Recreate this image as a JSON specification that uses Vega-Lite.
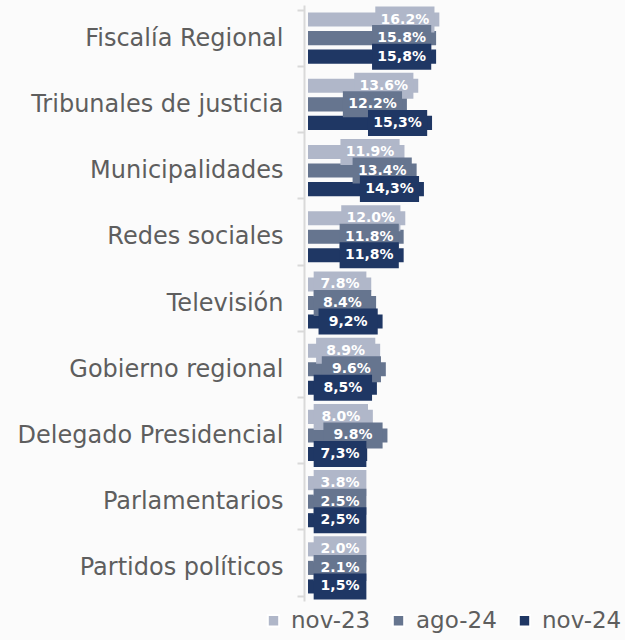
{
  "$schema": "https://vega.github.io/schema/vega-lite/v6.json",
  "autosize": {"type": "none"},
  "padding": {"left": 308, "top": 5, "right": 0, "bottom": 39},
  "width": 317,
  "height": 596,
  "background": "#fbfbfb",
  "config": {"view": {"stroke": null}, "font": "DejaVu Sans"},
  "data": {"values": [
    {"cat": "Fiscalía Regional", "serie": "nov-23", "value": 16.2, "label": "16.2%"},
    {"cat": "Fiscalía Regional", "serie": "ago-24", "value": 15.8, "label": "15.8%"},
    {"cat": "Fiscalía Regional", "serie": "nov-24", "value": 15.8, "label": "15,8%"},
    {"cat": "Tribunales de justicia", "serie": "nov-23", "value": 13.6, "label": "13.6%"},
    {"cat": "Tribunales de justicia", "serie": "ago-24", "value": 12.2, "label": "12.2%"},
    {"cat": "Tribunales de justicia", "serie": "nov-24", "value": 15.3, "label": "15,3%"},
    {"cat": "Municipalidades", "serie": "nov-23", "value": 11.9, "label": "11.9%"},
    {"cat": "Municipalidades", "serie": "ago-24", "value": 13.4, "label": "13.4%"},
    {"cat": "Municipalidades", "serie": "nov-24", "value": 14.3, "label": "14,3%"},
    {"cat": "Redes sociales", "serie": "nov-23", "value": 12.0, "label": "12.0%"},
    {"cat": "Redes sociales", "serie": "ago-24", "value": 11.8, "label": "11.8%"},
    {"cat": "Redes sociales", "serie": "nov-24", "value": 11.8, "label": "11,8%"},
    {"cat": "Televisión", "serie": "nov-23", "value": 7.8, "label": "7.8%"},
    {"cat": "Televisión", "serie": "ago-24", "value": 8.4, "label": "8.4%"},
    {"cat": "Televisión", "serie": "nov-24", "value": 9.2, "label": "9,2%"},
    {"cat": "Gobierno regional", "serie": "nov-23", "value": 8.9, "label": "8.9%"},
    {"cat": "Gobierno regional", "serie": "ago-24", "value": 9.6, "label": "9.6%"},
    {"cat": "Gobierno regional", "serie": "nov-24", "value": 8.5, "label": "8,5%"},
    {"cat": "Delegado Presidencial", "serie": "nov-23", "value": 8.0, "label": "8.0%"},
    {"cat": "Delegado Presidencial", "serie": "ago-24", "value": 9.8, "label": "9.8%"},
    {"cat": "Delegado Presidencial", "serie": "nov-24", "value": 7.3, "label": "7,3%"},
    {"cat": "Parlamentarios", "serie": "nov-23", "value": 3.8, "label": "3.8%"},
    {"cat": "Parlamentarios", "serie": "ago-24", "value": 2.5, "label": "2.5%"},
    {"cat": "Parlamentarios", "serie": "nov-24", "value": 2.5, "label": "2,5%"},
    {"cat": "Partidos políticos", "serie": "nov-23", "value": 2.0, "label": "2.0%"},
    {"cat": "Partidos políticos", "serie": "ago-24", "value": 2.1, "label": "2.1%"},
    {"cat": "Partidos políticos", "serie": "nov-24", "value": 1.5, "label": "1,5%"}
  ]},
  "transform": [
    {"calculate": "max(datum.value - 0.6, 7.2)", "as": "bx2"},
    {"calculate": "max(datum.bx2 - 7.3, 0.7)", "as": "bx1"},
    {"calculate": "(datum.bx1 + datum.bx2) / 2", "as": "bmid"}
  ],
  "encoding": {
    "y": {
      "field": "cat", "type": "nominal", "sort": null,
      "scale": {"paddingInner": 0.16, "paddingOuter": 0.08},
      "axis": {
        "title": null, "offset": 4, "tickBand": "extent", "domainColor": "#d9d9d9", "domainWidth": 2,
        "tickColor": "#d9d9d9", "tickWidth": 2, "tickSize": 7, "labelPadding": 14,
        "labelFontSize": 24, "labelFontWeight": "normal", "labelColor": "#5e5e5e", "labelFont": "DejaVu Sans",
        "labelLimit": 320
      }
    },
    "yOffset": {
      "field": "serie", "type": "nominal",
      "scale": {"domain": ["nov-23", "ago-24", "nov-24"], "paddingInner": 0.24, "paddingOuter": 0.12}
    }
  },
  "layer": [
    {
      "mark": {"type": "bar"},
      "encoding": {
        "x": {"field": "value", "type": "quantitative", "scale": {"domain": [0, 39.1], "nice": false}, "axis": null},
        "color": {
          "field": "serie", "type": "nominal",
          "scale": {"domain": ["nov-23", "ago-24", "nov-24"], "range": ["#b0b7c9", "#66758f", "#1f3764"]},
          "legend": {
            "title": null, "orient": "none", "direction": "horizontal", "legendX": -46, "legendY": 604,
            "symbolType": "square", "symbolSize": 130, "symbolStrokeColor": "white", "symbolStrokeWidth": 2,
            "symbolOpacity": 1, "labelFontSize": 23, "labelFontWeight": "normal", "labelColor": "#5e5e5e", "labelFont": "DejaVu Sans",
            "columnPadding": 16, "labelOffset": 6
          }
        }
      }
    },
    {
      "transform": [{"filter": "datum.serie == 'nov-23'"}],
      "mark": {"type": "bar", "height": 26},
      "encoding": {"x": {"field": "bx1", "type": "quantitative"}, "x2": {"field": "bx2"}, "color": {"field": "serie", "type": "nominal"}}
    },
    {
      "transform": [{"filter": "datum.serie == 'nov-23'"}],
      "mark": {"type": "text", "color": "white", "fontWeight": "bold", "fontSize": 14, "font": "DejaVu Sans", "align": "center", "baseline": "middle"},
      "encoding": {"x": {"field": "bmid", "type": "quantitative"}, "text": {"field": "label"}}
    },
    {
      "transform": [{"filter": "datum.serie == 'ago-24'"}],
      "mark": {"type": "bar", "height": 26},
      "encoding": {"x": {"field": "bx1", "type": "quantitative"}, "x2": {"field": "bx2"}, "color": {"field": "serie", "type": "nominal"}}
    },
    {
      "transform": [{"filter": "datum.serie == 'ago-24'"}],
      "mark": {"type": "text", "color": "white", "fontWeight": "bold", "fontSize": 14, "font": "DejaVu Sans", "align": "center", "baseline": "middle"},
      "encoding": {"x": {"field": "bmid", "type": "quantitative"}, "text": {"field": "label"}}
    },
    {
      "transform": [{"filter": "datum.serie == 'nov-24'"}],
      "mark": {"type": "bar", "height": 26},
      "encoding": {"x": {"field": "bx1", "type": "quantitative"}, "x2": {"field": "bx2"}, "color": {"field": "serie", "type": "nominal"}}
    },
    {
      "transform": [{"filter": "datum.serie == 'nov-24'"}],
      "mark": {"type": "text", "color": "white", "fontWeight": "bold", "fontSize": 14, "font": "DejaVu Sans", "align": "center", "baseline": "middle"},
      "encoding": {"x": {"field": "bmid", "type": "quantitative"}, "text": {"field": "label"}}
    }
  ]
}
